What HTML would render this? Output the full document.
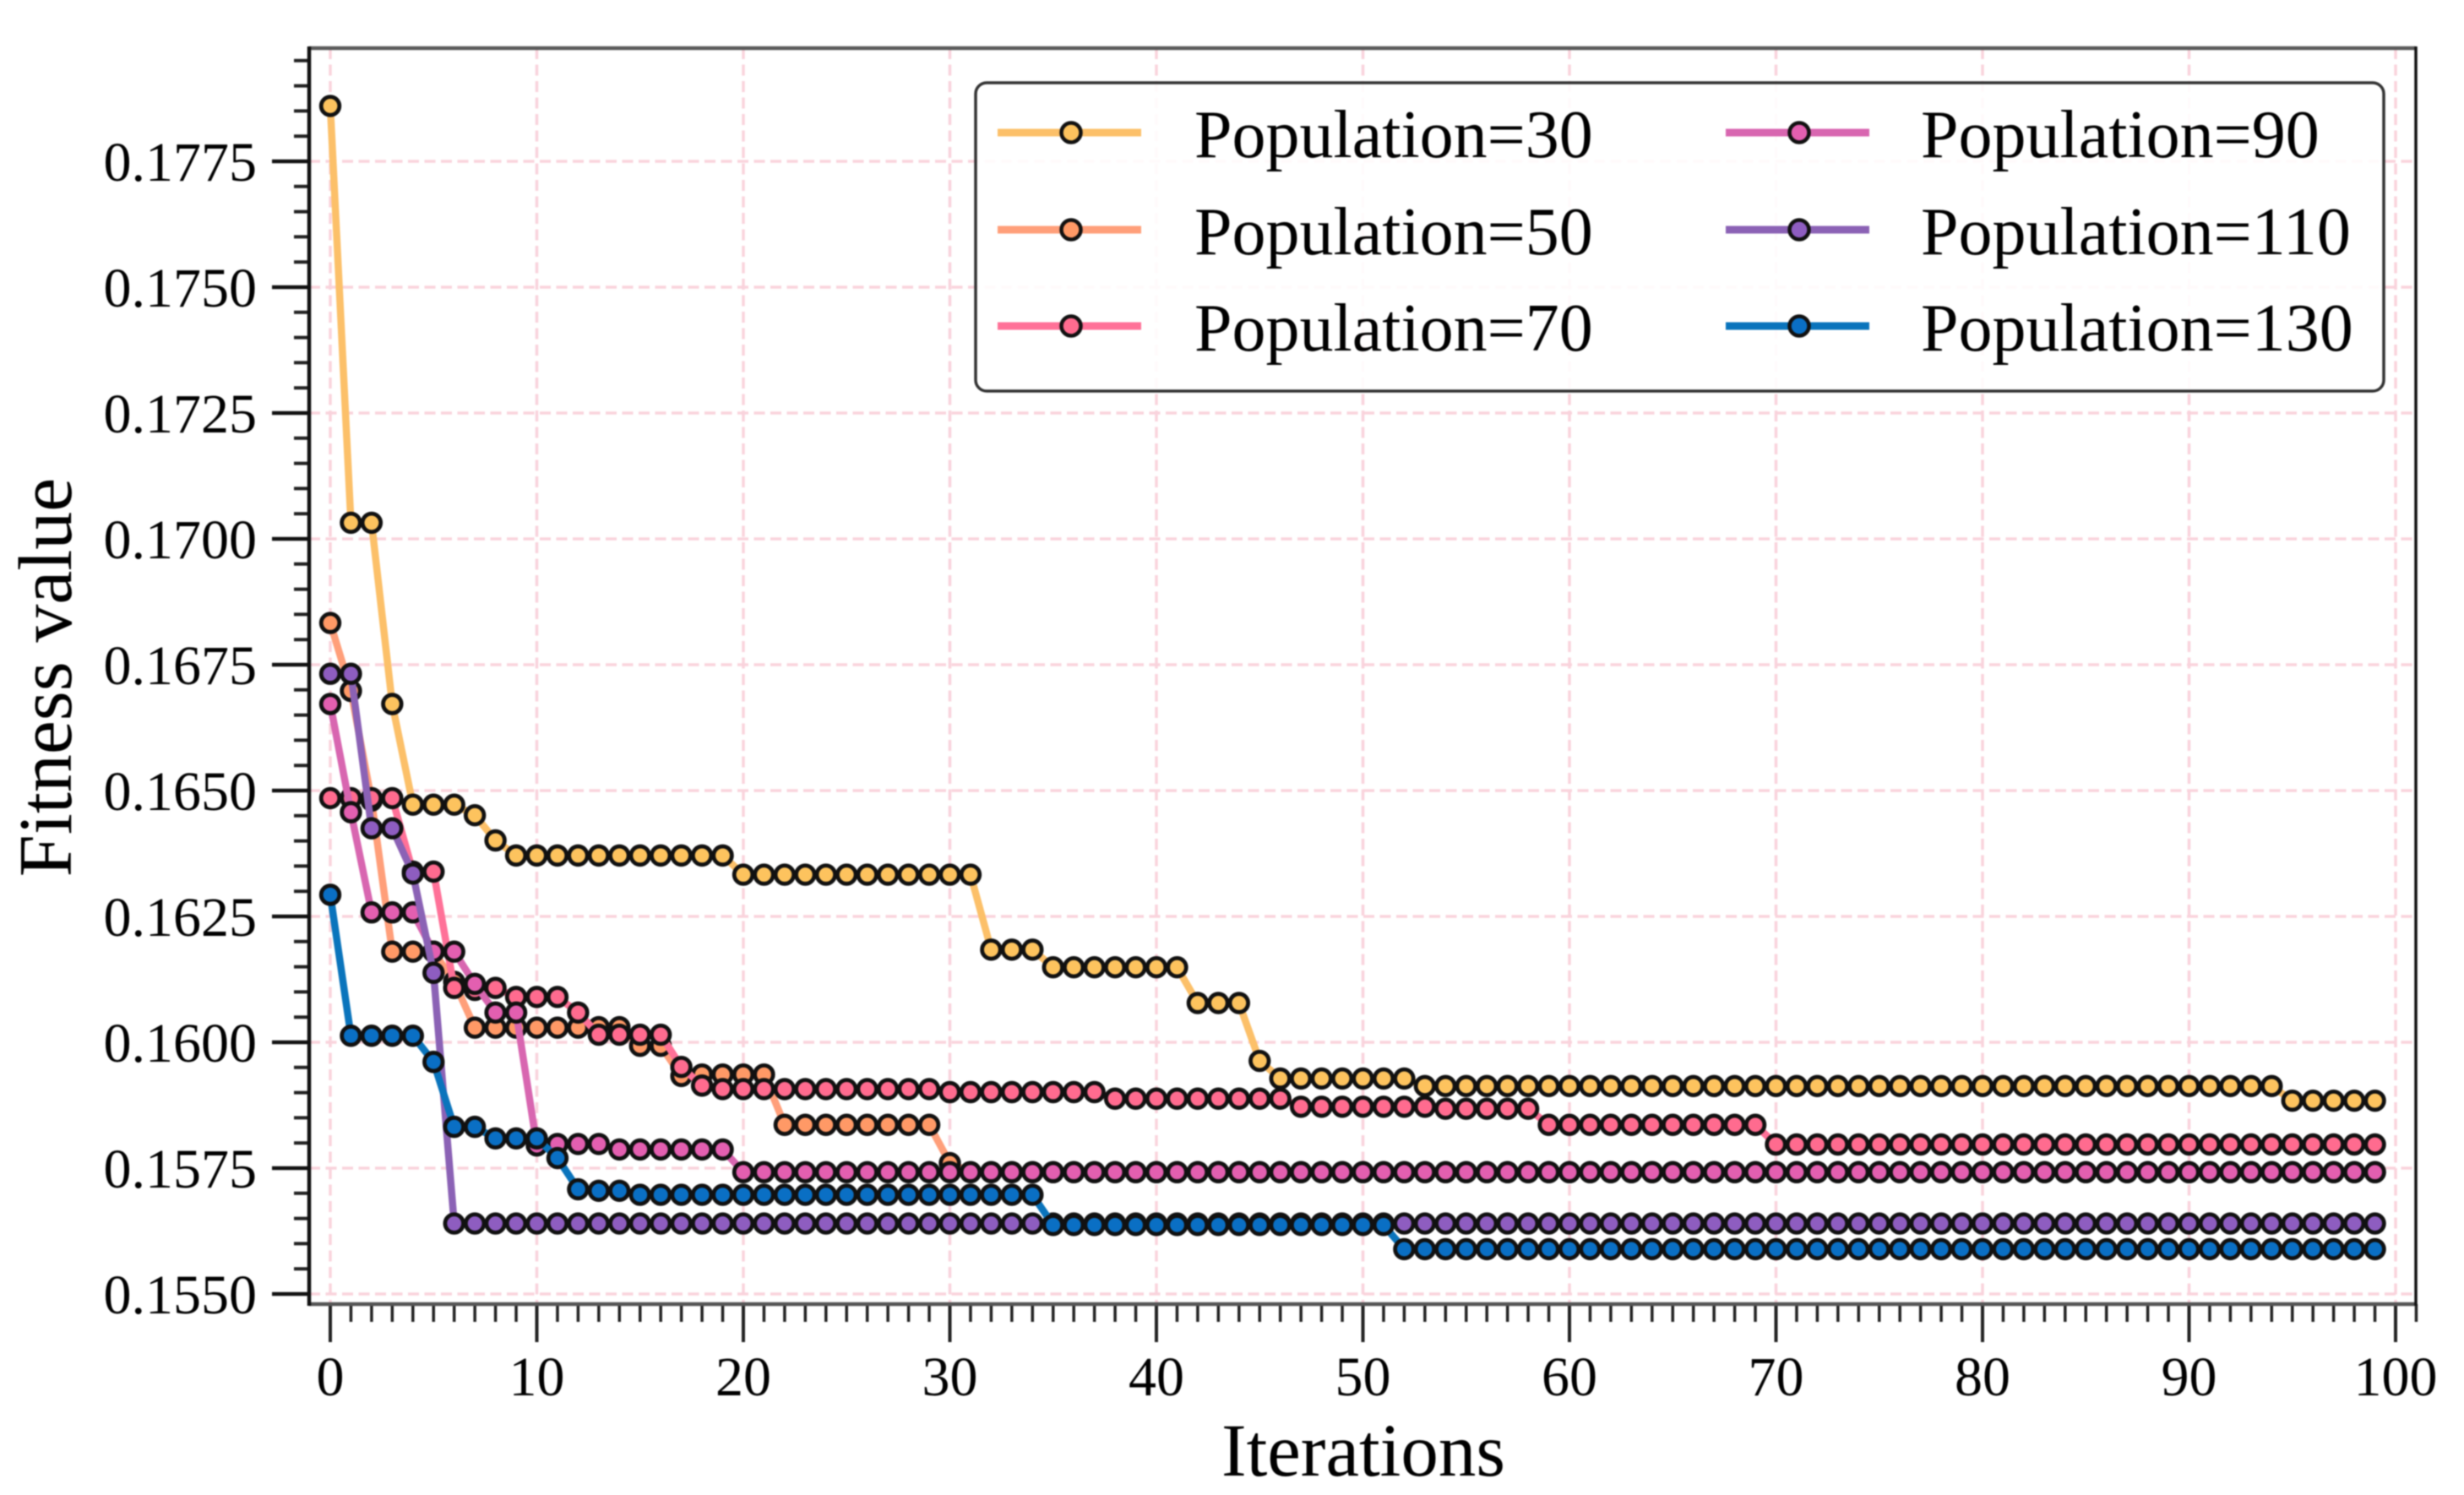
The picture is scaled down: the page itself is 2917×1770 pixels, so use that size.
<!DOCTYPE html>
<html lang="en">
<head>
<meta charset="utf-8">
<title>Fitness value vs iterations</title>
<style>
  html, body { margin: 0; padding: 0; background: #fff; }
  svg { display: block; font-family: "Liberation Serif", "Times New Roman", serif; filter: blur(0.7px); }
</style>
</head>
<body>
<svg id="chart" xmlns="http://www.w3.org/2000/svg" width="2917" height="1770" viewBox="0 0 2917 1770">
  <rect x="0" y="0" width="2917" height="1770" fill="#ffffff"/>
  <g id="grid"></g>
  <g id="series"></g>
  <g id="axes"></g>
  <text x="1614" y="1747" font-size="89" text-anchor="middle" fill="#000">Iterations</text>
  <text transform="translate(84,802) rotate(-90)" font-size="90" text-anchor="middle" fill="#000">Fitness value</text>
  <g>
    <rect x="1155" y="98" width="1667" height="365" rx="13" ry="13" fill="#ffffff" fill-opacity="0.88" stroke="#333333" stroke-width="3.5"/>
    <g>
      <line x1="1181" y1="157" x2="1351" y2="157" stroke="#fcc069" stroke-width="9"/>
      <circle cx="1268" cy="157" r="11.5" fill="#fdc35e" stroke="#111" stroke-width="4.5"/>
      <text x="1414" y="186" font-size="80" fill="#000">Population=30</text>
    </g>
    <g>
      <line x1="1181" y1="272" x2="1351" y2="272" stroke="#ff9f7a" stroke-width="9"/>
      <circle cx="1268" cy="272" r="11.5" fill="#ff9966" stroke="#111" stroke-width="4.5"/>
      <text x="1414" y="301" font-size="80" fill="#000">Population=50</text>
    </g>
    <g>
      <line x1="1181" y1="386" x2="1351" y2="386" stroke="#ff7198" stroke-width="9"/>
      <circle cx="1268" cy="386" r="11.5" fill="#ff6b8f" stroke="#111" stroke-width="4.5"/>
      <text x="1414" y="415" font-size="80" fill="#000">Population=70</text>
    </g>
    <g>
      <line x1="2043" y1="157" x2="2213" y2="157" stroke="#d866b0" stroke-width="9"/>
      <circle cx="2130" cy="157" r="11.5" fill="#e35fb0" stroke="#111" stroke-width="4.5"/>
      <text x="2274" y="186" font-size="80" fill="#000">Population=90</text>
    </g>
    <g>
      <line x1="2043" y1="272" x2="2213" y2="272" stroke="#8b62b5" stroke-width="9"/>
      <circle cx="2130" cy="272" r="11.5" fill="#8e5dc0" stroke="#111" stroke-width="4.5"/>
      <text x="2274" y="301" font-size="80" fill="#000">Population=110</text>
    </g>
    <g>
      <line x1="2043" y1="386" x2="2213" y2="386" stroke="#0a74bc" stroke-width="9"/>
      <circle cx="2130" cy="386" r="11.5" fill="#0a6fc4" stroke="#111" stroke-width="4.5"/>
      <text x="2274" y="415" font-size="80" fill="#000">Population=130</text>
    </g>
  </g>
</svg>
<script>
const xTickLabels = [0, 10, 20, 30, 40, 50, 60, 70, 80, 90, 100];
const yTickLabels = ["0.1550", "0.1575", "0.1600", "0.1625", "0.1650", "0.1675", "0.1700", "0.1725", "0.1750", "0.1775"];

const population30 = [
  0.1786, 0.17032, 0.17032, 0.16672, 0.16472, 0.16472, 0.16472, 0.16451, 0.16401, 0.16371,
  0.16371, 0.16371, 0.16371, 0.16371, 0.16371, 0.16371, 0.16371, 0.16371, 0.16371, 0.16371,
  0.16333, 0.16333, 0.16333, 0.16333, 0.16333, 0.16333, 0.16333, 0.16333, 0.16333, 0.16333,
  0.16333, 0.16333, 0.16184, 0.16184, 0.16184, 0.16149, 0.16149, 0.16149, 0.16149, 0.16149,
  0.16149, 0.16149, 0.16078, 0.16078, 0.16078, 0.15963, 0.15928, 0.15928, 0.15928, 0.15928,
  0.15928, 0.15928, 0.15928, 0.15913, 0.15913, 0.15913, 0.15913, 0.15913, 0.15913, 0.15913,
  0.15913, 0.15913, 0.15913, 0.15913, 0.15913, 0.15913, 0.15913, 0.15913, 0.15913, 0.15913,
  0.15913, 0.15913, 0.15913, 0.15913, 0.15913, 0.15913, 0.15913, 0.15913, 0.15913, 0.15913,
  0.15913, 0.15913, 0.15913, 0.15913, 0.15913, 0.15913, 0.15913, 0.15913, 0.15913, 0.15913,
  0.15913, 0.15913, 0.15913, 0.15913, 0.15913, 0.15884, 0.15884, 0.15884, 0.15884, 0.15884
];
const population50 = [
  0.16833, 0.16698, 0.1648, 0.1618, 0.1618, 0.1618, 0.1612, 0.16029, 0.16029, 0.16029,
  0.16029, 0.16029, 0.16029, 0.1603, 0.1603, 0.15993, 0.15993, 0.15933, 0.15936, 0.15936,
  0.15936, 0.15936, 0.15836, 0.15836, 0.15836, 0.15836, 0.15836, 0.15836, 0.15836, 0.15836,
  0.1576, 0.15742, 0.15742, 0.15742, 0.15742, 0.15742, 0.15742, 0.15742, 0.15742, 0.15742,
  0.15742, 0.15742, 0.15742, 0.15742, 0.15742, 0.15742, 0.15742, 0.15742, 0.15742, 0.15742,
  0.15742, 0.15742, 0.15742, 0.15742, 0.15742, 0.15742, 0.15742, 0.15742, 0.15742, 0.15742,
  0.15742, 0.15742, 0.15742, 0.15742, 0.15742, 0.15742, 0.15742, 0.15742, 0.15742, 0.15742,
  0.15742, 0.15742, 0.15742, 0.15742, 0.15742, 0.15742, 0.15742, 0.15742, 0.15742, 0.15742,
  0.15742, 0.15742, 0.15742, 0.15742, 0.15742, 0.15742, 0.15742, 0.15742, 0.15742, 0.15742,
  0.15742, 0.15742, 0.15742, 0.15742, 0.15742, 0.15742, 0.15742, 0.15742, 0.15742, 0.15742
];
const population70 = [
  0.16485, 0.16485, 0.16485, 0.16485, 0.16339, 0.16339, 0.16108, 0.16104, 0.16108, 0.1609,
  0.1609, 0.1609, 0.16059, 0.16015, 0.16015, 0.16015, 0.16015, 0.15951, 0.15914, 0.15907,
  0.15907, 0.15907, 0.15907, 0.15907, 0.15907, 0.15907, 0.15907, 0.15907, 0.15907, 0.15907,
  0.15901, 0.15901, 0.15901, 0.15901, 0.15901, 0.15901, 0.15901, 0.15901, 0.15888, 0.15888,
  0.15888, 0.15888, 0.15888, 0.15888, 0.15888, 0.15888, 0.15888, 0.15872, 0.15872, 0.15872,
  0.15872, 0.15872, 0.15872, 0.15872, 0.15868, 0.15868, 0.15868, 0.15868, 0.15868, 0.15836,
  0.15836, 0.15836, 0.15836, 0.15836, 0.15836, 0.15836, 0.15836, 0.15836, 0.15836, 0.15836,
  0.15797, 0.15797, 0.15797, 0.15797, 0.15797, 0.15797, 0.15797, 0.15797, 0.15797, 0.15797,
  0.15797, 0.15797, 0.15797, 0.15797, 0.15797, 0.15797, 0.15797, 0.15797, 0.15797, 0.15797,
  0.15797, 0.15797, 0.15797, 0.15797, 0.15797, 0.15797, 0.15797, 0.15797, 0.15797, 0.15797
];
const population90 = [
  0.16672, 0.16457, 0.16258, 0.16258, 0.16258, 0.1618, 0.1618, 0.16116, 0.16059, 0.16059,
  0.15795, 0.15798, 0.15798, 0.15798, 0.15787, 0.15787, 0.15787, 0.15787, 0.15787, 0.15787,
  0.15742, 0.15742, 0.15742, 0.15742, 0.15742, 0.15742, 0.15742, 0.15742, 0.15742, 0.15742,
  0.15742, 0.15742, 0.15742, 0.15742, 0.15742, 0.15742, 0.15742, 0.15742, 0.15742, 0.15742,
  0.15742, 0.15742, 0.15742, 0.15742, 0.15742, 0.15742, 0.15742, 0.15742, 0.15742, 0.15742,
  0.15742, 0.15742, 0.15742, 0.15742, 0.15742, 0.15742, 0.15742, 0.15742, 0.15742, 0.15742,
  0.15742, 0.15742, 0.15742, 0.15742, 0.15742, 0.15742, 0.15742, 0.15742, 0.15742, 0.15742,
  0.15742, 0.15742, 0.15742, 0.15742, 0.15742, 0.15742, 0.15742, 0.15742, 0.15742, 0.15742,
  0.15742, 0.15742, 0.15742, 0.15742, 0.15742, 0.15742, 0.15742, 0.15742, 0.15742, 0.15742,
  0.15742, 0.15742, 0.15742, 0.15742, 0.15742, 0.15742, 0.15742, 0.15742, 0.15742, 0.15742
];
const population110 = [
  0.16732, 0.16732, 0.16425, 0.16425, 0.16335, 0.16138, 0.1564, 0.1564, 0.1564, 0.1564,
  0.1564, 0.1564, 0.1564, 0.1564, 0.1564, 0.1564, 0.1564, 0.1564, 0.1564, 0.1564,
  0.1564, 0.1564, 0.1564, 0.1564, 0.1564, 0.1564, 0.1564, 0.1564, 0.1564, 0.1564,
  0.1564, 0.1564, 0.1564, 0.1564, 0.1564, 0.1564, 0.1564, 0.1564, 0.1564, 0.1564,
  0.1564, 0.1564, 0.1564, 0.1564, 0.1564, 0.1564, 0.1564, 0.1564, 0.1564, 0.1564,
  0.1564, 0.1564, 0.1564, 0.1564, 0.1564, 0.1564, 0.1564, 0.1564, 0.1564, 0.1564,
  0.1564, 0.1564, 0.1564, 0.1564, 0.1564, 0.1564, 0.1564, 0.1564, 0.1564, 0.1564,
  0.1564, 0.1564, 0.1564, 0.1564, 0.1564, 0.1564, 0.1564, 0.1564, 0.1564, 0.1564,
  0.1564, 0.1564, 0.1564, 0.1564, 0.1564, 0.1564, 0.1564, 0.1564, 0.1564, 0.1564,
  0.1564, 0.1564, 0.1564, 0.1564, 0.1564, 0.1564, 0.1564, 0.1564, 0.1564, 0.1564
];
const population130 = [
  0.16293, 0.16013, 0.16013, 0.16013, 0.16013, 0.15961, 0.15832, 0.15832, 0.15809, 0.15809,
  0.15809, 0.1577, 0.15708, 0.15705, 0.15705, 0.15697, 0.15697, 0.15697, 0.15697, 0.15697,
  0.15697, 0.15697, 0.15697, 0.15697, 0.15697, 0.15697, 0.15697, 0.15697, 0.15697, 0.15697,
  0.15697, 0.15697, 0.15697, 0.15697, 0.15697, 0.15637, 0.15637, 0.15637, 0.15637, 0.15637,
  0.15637, 0.15637, 0.15637, 0.15637, 0.15637, 0.15637, 0.15637, 0.15637, 0.15637, 0.15637,
  0.15637, 0.15637, 0.15589, 0.15589, 0.15589, 0.15589, 0.15589, 0.15589, 0.15589, 0.15589,
  0.15589, 0.15589, 0.15589, 0.15589, 0.15589, 0.15589, 0.15589, 0.15589, 0.15589, 0.15589,
  0.15589, 0.15589, 0.15589, 0.15589, 0.15589, 0.15589, 0.15589, 0.15589, 0.15589, 0.15589,
  0.15589, 0.15589, 0.15589, 0.15589, 0.15589, 0.15589, 0.15589, 0.15589, 0.15589, 0.15589,
  0.15589, 0.15589, 0.15589, 0.15589, 0.15589, 0.15589, 0.15589, 0.15589, 0.15589, 0.15589
];

const seriesNames = ["population-30", "population-50", "population-70", "population-90", "population-110", "population-130"];
const seriesValues = [population30, population50, population70, population90, population110, population130];
const lineColors = ["#fcc069", "#ff9f7a", "#ff7198", "#d866b0", "#8b62b5", "#0a74bc"];
const markerColors = ["#fdc35e", "#ff9966", "#ff6b8f", "#e35fb0", "#8e5dc0", "#0a6fc4"];

const NS = "http://www.w3.org/2000/svg";
const plotLeft = 366, plotRight = 2860, plotTop = 57, plotBottom = 1544;

function xScale(v) { return 391 + (v - 0) * 24.45; }
function yScale(v) { return 191 + (0.1775 - v) * 59600; }

function make(tag, attrs, parent) {
  const el = document.createElementNS(NS, tag);
  for (const k in attrs) el.setAttribute(k, attrs[k]);
  parent.appendChild(el);
  return el;
}

const gridLayer = document.getElementById("grid");
const seriesLayer = document.getElementById("series");
const axesLayer = document.getElementById("axes");
const gridStyle = { stroke: "#f9d3dc", "stroke-width": 3.5, "stroke-dasharray": "13 6.5", fill: "none" };

xTickLabels.forEach(function (t) {
  const px = xScale(t);
  const g = make("line", Object.assign({ x1: px, x2: px, y1: plotTop, y2: plotBottom }, gridStyle), gridLayer);
  
  
});
yTickLabels.forEach(function (t) {
  const py = yScale(parseFloat(t));
  const g = make("line", Object.assign({ x1: plotLeft, x2: plotRight, y1: py, y2: py }, gridStyle), gridLayer);
  
  
});

seriesValues.forEach(function (values, s) {
  const group = make("g", {}, seriesLayer);
  
  
  const pts = values.map(function (v, i) { return xScale(i).toFixed(2) + "," + yScale(v).toFixed(2); }).join(" ");
  const line = make("polyline", { points: pts, fill: "none", stroke: lineColors[s], "stroke-width": 8.5, "stroke-linejoin": "round" }, group);
  
  
  values.forEach(function (v, i) {
    const c = make("circle", { cx: xScale(i).toFixed(2), cy: yScale(v).toFixed(2), r: 10.8, fill: markerColors[s], stroke: "#111111", "stroke-width": 4.8 }, group);
    
    
  });
});

/* minor ticks */
for (let i = 1; i <= 101; i++) {
  if (i % 10 === 0 && i <= 100) continue;
  const px = xScale(i);
  const m = make("line", { x1: px, x2: px, y1: plotBottom, y2: plotBottom + 21, stroke: "#222", "stroke-width": 3.5 }, axesLayer);
  
  
}
for (let k = 0; k <= 49; k++) {
  if (k % 5 === 0 && k <= 45) continue;
  const py = yScale(0.155 + k * 0.0005);
  const m = make("line", { x1: plotLeft - 18, x2: plotLeft, y1: py, y2: py, stroke: "#222", "stroke-width": 4 }, axesLayer);
  
  
}

/* major ticks and labels */
xTickLabels.forEach(function (t) {
  const px = xScale(t);
  const m = make("line", { x1: px, x2: px, y1: plotBottom, y2: plotBottom + 45, stroke: "#222", "stroke-width": 4 }, axesLayer);
  
  
  const label = make("text", { x: px, y: 1652, "font-size": 66, "text-anchor": "middle", fill: "#000" }, axesLayer);
  label.textContent = String(t);
  
  
});
yTickLabels.forEach(function (t) {
  const py = yScale(parseFloat(t));
  const m = make("line", { x1: plotLeft - 44, x2: plotLeft, y1: py, y2: py, stroke: "#111", "stroke-width": 4.5 }, axesLayer);
  
  
  const label = make("text", { x: 304, y: py + 23, "font-size": 66, "text-anchor": "end", fill: "#000" }, axesLayer);
  label.textContent = t;
  
  
});

/* spines */
const topSpine = make("line", { x1: plotLeft, x2: plotRight, y1: plotTop, y2: plotTop, stroke: "#5a5a5a", "stroke-width": 4.5 }, axesLayer);


const bottomSpine = make("line", { x1: plotLeft, x2: plotRight, y1: plotBottom, y2: plotBottom, stroke: "#555555", "stroke-width": 4.5 }, axesLayer);


const leftSpine = make("line", { x1: plotLeft, x2: plotLeft, y1: plotTop - 2, y2: plotBottom + 2, stroke: "#111111", "stroke-width": 4.5 }, axesLayer);


const rightSpine = make("line", { x1: plotRight, x2: plotRight, y1: plotTop - 2, y2: plotBottom + 2, stroke: "#111111", "stroke-width": 3.5 }, axesLayer);


</script>
</body>
</html>
